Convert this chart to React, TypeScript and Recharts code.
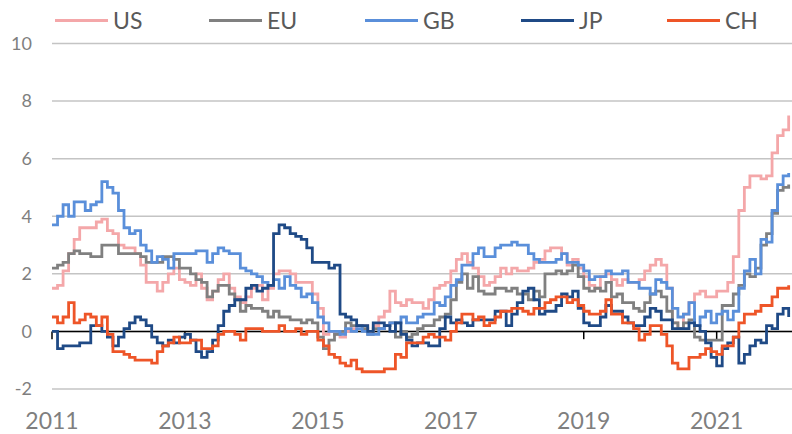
import React from 'react';
import { LineChart, Line, XAxis, YAxis, CartesianGrid, ReferenceLine, Legend } from 'recharts';

// Monthly y/y inflation, Dec 2010 .. Jan 2022 (134 months)
const startYear = 2010;
const startMonth = 11; // December (0-based)
const monthCount = 134;

const yearTickLabels = ['2011', '2013', '2015', '2017', '2019', '2021'];
const yearTickIndex = [0, 24, 48, 72, 96, 120];

const usValues = [1.5,
  1.6, 2.1, 2.7, 3.2, 3.6, 3.6, 3.6, 3.8, 3.9, 3.5, 3.4, 3.0,
  2.9, 2.9, 2.7, 2.3, 1.7, 1.7, 1.4, 1.7, 2.0, 2.2, 1.8, 1.7,
  1.6, 2.0, 1.5, 1.1, 1.4, 1.8, 2.0, 1.5, 1.2, 1.0, 1.2, 1.5,
  1.6, 1.1, 1.5, 2.0, 2.1, 2.1, 2.0, 1.7, 1.7, 1.7, 1.3, 0.8,
  -0.1, 0.0, -0.1, -0.2, 0.0, 0.1, 0.2, 0.2, 0.0, 0.2, 0.5, 0.7,
  1.4, 1.0, 0.9, 1.1, 1.0, 1.0, 0.8, 1.1, 1.5, 1.6, 1.7, 2.1,
  2.5, 2.7, 2.4, 2.2, 1.9, 1.6, 1.7, 1.9, 2.2, 2.0, 2.2, 2.1,
  2.1, 2.2, 2.4, 2.5, 2.8, 2.9, 2.9, 2.7, 2.3, 2.5, 2.2, 1.9,
  1.6, 1.5, 1.9, 2.0, 1.8, 1.6, 1.8, 1.7, 1.7, 1.8, 2.1, 2.3,
  2.5, 2.3, 1.5, 0.3, 0.1, 0.6, 1.0, 1.3, 1.4, 1.2, 1.2, 1.4,
  1.4, 1.7, 2.6, 4.2, 5.0, 5.4, 5.4, 5.3, 5.4, 6.2, 6.8, 7.0,
  7.5];

const euValues = [2.2,
  2.3, 2.4, 2.7, 2.8, 2.7, 2.7, 2.6, 2.6, 3.0, 3.0, 3.0, 2.7,
  2.7, 2.7, 2.7, 2.6, 2.4, 2.4, 2.4, 2.6, 2.6, 2.5, 2.2, 2.2,
  2.0, 1.8, 1.7, 1.2, 1.4, 1.6, 1.6, 1.3, 1.1, 0.7, 0.9, 0.8,
  0.8, 0.7, 0.5, 0.7, 0.5, 0.5, 0.4, 0.4, 0.3, 0.4, 0.3, -0.2,
  -0.6, -0.3, -0.1, 0.0, 0.3, 0.2, 0.2, 0.1, -0.1, 0.1, 0.1, 0.2,
  0.3, -0.2, 0.0, -0.2, -0.1, 0.1, 0.2, 0.2, 0.4, 0.5, 0.6, 1.1,
  1.7, 2.0, 1.5, 1.9, 1.4, 1.3, 1.3, 1.5, 1.5, 1.4, 1.5, 1.3,
  1.3, 1.1, 1.4, 1.2, 2.0, 2.0, 2.1, 2.0, 2.1, 2.3, 1.9, 1.5,
  1.4, 1.5, 1.4, 1.7, 1.2, 1.3, 1.0, 1.0, 0.8, 0.7, 1.0, 1.3,
  1.4, 1.2, 0.7, 0.3, 0.1, 0.3, 0.4, -0.2, -0.3, -0.3, -0.3, -0.3,
  0.9, 0.9, 1.3, 1.6, 2.0, 1.9, 2.2, 3.0, 3.4, 4.1, 4.9, 5.0,
  5.1];

const gbValues = [3.7,
  4.0, 4.4, 4.0, 4.5, 4.5, 4.2, 4.4, 4.5, 5.2, 5.0, 4.8, 4.2,
  3.6, 3.4, 3.5, 3.0, 2.8, 2.4, 2.6, 2.5, 2.2, 2.7, 2.7, 2.7,
  2.7, 2.8, 2.8, 2.4, 2.7, 2.9, 2.8, 2.7, 2.7, 2.2, 2.1, 2.0,
  1.9, 1.7, 1.6, 1.8, 1.5, 1.9, 1.6, 1.5, 1.2, 1.3, 1.0, 0.5,
  0.3, 0.0, 0.0, -0.1, 0.1, 0.0, 0.1, 0.0, -0.1, -0.1, 0.1, 0.2,
  0.3, 0.3, 0.5, 0.3, 0.3, 0.5, 0.6, 0.6, 1.0, 0.9, 1.2, 1.6,
  1.8, 2.3, 2.3, 2.7, 2.9, 2.6, 2.6, 2.9, 3.0, 3.0, 3.1, 3.0,
  3.0, 2.7, 2.5, 2.4, 2.4, 2.4, 2.5, 2.7, 2.4, 2.4, 2.3, 2.1,
  1.8, 1.9, 1.9, 2.1, 2.0, 2.0, 2.1, 1.7, 1.7, 1.5, 1.5, 1.3,
  1.8, 1.7, 1.5, 0.8, 0.5, 0.6, 1.0, 0.2, 0.5, 0.7, 0.3, 0.6,
  0.7, 0.4, 0.7, 1.5, 2.1, 2.5, 2.0, 3.2, 3.1, 4.2, 5.1, 5.4,
  5.5];

const jpValues = [0.0,
  -0.6, -0.5, -0.5, -0.5, -0.4, -0.4, 0.2, 0.2, 0.0, -0.2, -0.5, -0.2,
  0.1, 0.3, 0.5, 0.4, 0.2, -0.2, -0.4, -0.5, -0.3, -0.4, -0.2, -0.1,
  -0.3, -0.7, -0.9, -0.7, -0.3, 0.2, 0.7, 0.9, 1.1, 1.1, 1.5, 1.6,
  1.4, 1.5, 1.6, 3.4, 3.7, 3.6, 3.4, 3.3, 3.2, 2.9, 2.4, 2.4,
  2.4, 2.2, 2.3, 0.6, 0.5, 0.4, 0.2, 0.2, 0.0, 0.3, 0.3, 0.2,
  0.0, 0.3, -0.1, -0.3, -0.5, -0.4, -0.4, -0.5, -0.5, 0.1, 0.5, 0.3,
  0.4, 0.3, 0.2, 0.4, 0.4, 0.4, 0.4, 0.7, 0.7, 0.2, 0.6, 1.0,
  1.4, 1.5, 1.1, 0.6, 0.7, 0.7, 0.9, 1.3, 1.2, 1.4, 0.8, 0.3,
  0.2, 0.2, 0.5, 0.9, 0.7, 0.7, 0.5, 0.3, 0.2, 0.2, 0.5, 0.8,
  0.7, 0.4, 0.4, 0.1, 0.1, 0.1, 0.3, 0.2, 0.0, -0.4, -0.9, -1.2,
  -0.6, -0.4, -0.2, -1.1, -0.8, -0.5, -0.3, -0.4, 0.2, 0.1, 0.6, 0.8,
  0.5];

const chValues = [0.5,
  0.3, 0.5, 1.0, 0.3, 0.4, 0.6, 0.5, 0.2, 0.5, -0.1, -0.7, -0.7,
  -0.8, -0.9, -1.0, -1.0, -1.0, -1.1, -0.7, -0.5, -0.4, -0.2, -0.4, -0.4,
  -0.3, -0.3, -0.6, -0.6, -0.5, -0.1, 0.0, 0.0, -0.1, -0.3, 0.1, 0.1,
  0.1, 0.0, 0.0, 0.0, 0.2, 0.0, 0.0, 0.1, -0.1, 0.0, 0.0, -0.3,
  -0.5, -0.8, -0.9, -1.1, -1.2, -1.0, -1.3, -1.4, -1.4, -1.4, -1.4, -1.3,
  -1.3, -0.8, -0.9, -0.4, -0.4, -0.4, -0.2, -0.1, -0.2, -0.2, -0.3, 0.0,
  0.3, 0.6, 0.6, 0.4, 0.5, 0.2, 0.3, 0.5, 0.7, 0.7, 0.8, 0.8,
  0.7, 0.6, 0.8, 0.8, 1.0, 1.1, 1.2, 1.2, 1.0, 1.1, 0.9, 0.7,
  0.6, 0.6, 0.7, 1.1, 0.6, 0.6, 0.3, 0.3, 0.1, -0.3, -0.1, 0.2,
  0.2, -0.1, -0.5, -1.1, -1.3, -1.3, -0.9, -0.9, -0.8, -0.6, -0.7, -0.8,
  -0.5, -0.5, -0.2, 0.3, 0.6, 0.6, 0.7, 0.9, 0.9, 1.2, 1.5, 1.5,
  1.6];

const seriesNames = ['US', 'EU', 'GB', 'JP', 'CH'];
const seriesValues = [usValues, euValues, gbValues, jpValues, chValues];
const seriesColors = ['#F4A7A9', '#808080', '#5A8FDA', '#1F4A86', '#EE5528'];

const monthLabels: string[] = [];
for (let k = 0; k < monthCount; k++) {
  const t = startMonth + k;
  monthLabels.push(`${startYear + Math.floor(t / 12)}-${String((t % 12) + 1).padStart(2, '0')}`);
}

const data = monthLabels.map((m, i) => {
  const row: Record<string, number | string> = { i, month: m };
  seriesNames.forEach((n, s) => { row[n] = seriesValues[s][i]; });
  return row;
});

const legendLeft = [55, 209, 365, 521, 667];
const FONT = 'Lato, "Open Sans", sans-serif';

const renderLegend = () => (
  <div style={{ position: 'relative', width: 792, height: 40 }}>
    {seriesNames.map((n, k) => (
      <div key={n} style={{ position: 'absolute', left: legendLeft[k], top: 0, height: 40, display: 'flex', alignItems: 'center' }}>
        <div style={{ width: 53, height: 3, background: seriesColors[k], marginRight: 5, marginTop: 0 }} />
        <span style={{ fontFamily: FONT, fontSize: 23, color: '#595959', lineHeight: '23px' }}>{n}</span>
      </div>
    ))}
  </div>
);

export default function App() {
  return (
    <div style={{ position: 'absolute', left: 0, top: 0, width: 792, height: 434, background: '#fff' }}>
      <LineChart width={792} height={434} data={data} margin={{ top: 3.5, right: 0, left: 0, bottom: 0 }}>
        <CartesianGrid vertical={false} stroke="#C4C4C4" strokeWidth={1.5} />
        <XAxis
          dataKey="i"
          type="number"
          domain={[0, 133.6]}
          ticks={yearTickIndex}
          tickFormatter={(v: number) => yearTickLabels[yearTickIndex.indexOf(v)] ?? ''}
          axisLine={false}
          tickLine={false}
          tickSize={0}
          tickMargin={24}
          height={45}
          tick={{ fill: '#7F7F7F', fontSize: 23, fontFamily: FONT }}
          interval={0}
        />
        <YAxis
          domain={[-2, 10]}
          ticks={[-2, 0, 2, 4, 6, 8, 10]}
          axisLine={false}
          tickLine={false}
          tickSize={0}
          tickMargin={20}
          width={52}
          tick={{ fill: '#7F7F7F', fontSize: 18, fontFamily: FONT }}
          interval={0}
        />
        <Legend verticalAlign="top" align="left" content={renderLegend} wrapperStyle={{ top: 0, left: 0, width: 792, height: 40 }} />
        <ReferenceLine y={0} stroke="#000" strokeWidth={1.5} ifOverflow="extendDomain" />
        {yearTickIndex.map((t) => (
          <ReferenceLine key={t} segment={[{ x: t, y: 0 }, { x: t, y: -0.27 }]} stroke="#000" strokeWidth={1.5} />
        ))}
        {seriesNames.map((n, k) => (
          <Line
            key={n}
            type="stepAfter"
            dataKey={n}
            stroke={seriesColors[k]}
            strokeWidth={2.8}
            dot={false}
            activeDot={false}
            isAnimationActive={false}
          />
        ))}
      </LineChart>
    </div>
  );
}
